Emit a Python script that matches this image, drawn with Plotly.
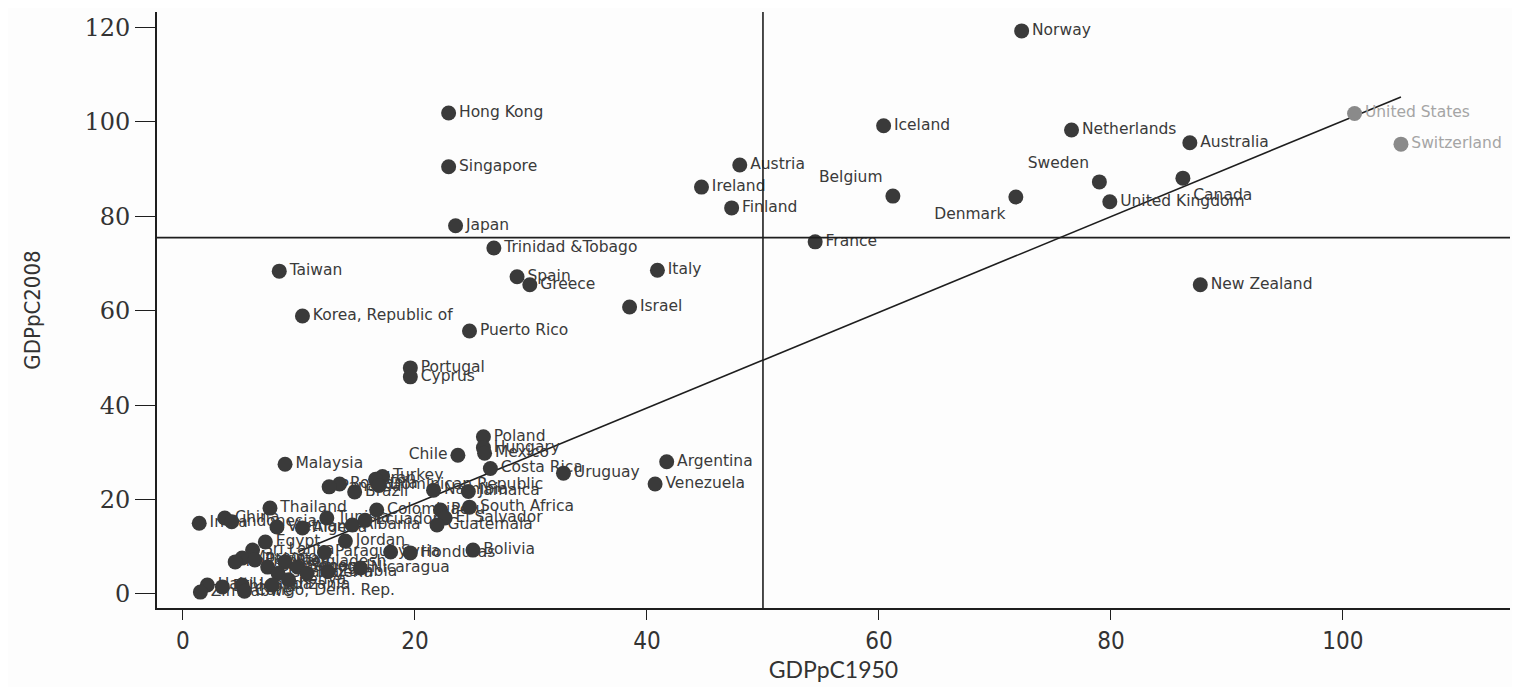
import plotly.graph_objects as go

# ---- data (GDP per capita relative index, 1950 vs 2008) ----
countries = [
    "Norway", "United States", "Switzerland", "Iceland", "Netherlands", "Australia",
    "Hong Kong", "Singapore", "Austria", "Ireland", "Finland", "Belgium", "Denmark",
    "Sweden", "Canada", "United Kingdom", "Japan", "France", "Trinidad &Tobago",
    "Taiwan", "Italy", "Spain", "Greece", "New Zealand", "Israel",
    "Korea, Republic of", "Puerto Rico", "Portugal", "Cyprus",
    "Poland", "Hungary", "Mexico", "Chile", "Argentina", "Malaysia", "Costa Rica",
    "Uruguay", "Venezuela", "Turkey", "Iran", "Dominican Republic", "Romania",
    "Panama", "Brazil", "Namibia", "Jamaica", "South Africa", "Thailand",
    "China", "India", "Indonesia", "Vietnam", "Algeria", "Tunisia", "Albania",
    "Ecuador", "Colombia", "Peru", "El Salvador", "Guatemala",
    "Egypt", "Jordan", "Sri Lanka", "Paraguay", "Syria", "Honduras", "Bolivia",
    "Morocco", "Pakistan", "Philippines", "Cameroon", "Bangladesh", "Senegal",
    "Nicaragua", "Zambia", "Ghana", "Nigeria", "Kenya", "Tanzania", "Uganda",
    "Ethiopia", "Haiti", "Zimbabwe", "Congo, Dem. Rep.",
]
gdp1950 = [
    72.3, 101.0, 105.0, 60.4, 76.6, 86.8,
    22.9, 22.9, 48.0, 44.7, 47.3, 61.2, 71.8,
    79.0, 86.2, 79.9, 23.5, 54.5, 26.8,
    8.3, 40.9, 28.8, 29.9, 87.7, 38.5,
    10.3, 24.7, 19.6, 19.6,
    25.9, 25.9, 26.0, 23.7, 41.7, 8.8, 26.5,
    32.8, 40.7, 17.2, 16.6, 16.9, 13.5,
    12.6, 14.8, 21.6, 24.6, 24.7, 7.5,
    3.6, 1.4, 4.2, 8.1, 10.3, 12.4, 14.6,
    15.7, 16.7, 22.2, 22.6, 21.9,
    7.1, 14.0, 6.0, 12.2, 17.9, 19.6, 25.0,
    5.1, 6.2, 4.5, 7.3, 8.8, 9.9,
    15.3, 12.5, 8.2, 10.7, 9.1, 7.7, 5.1,
    3.4, 2.1, 1.5, 5.3,
]
gdp2008 = [
    119.3, 101.8, 95.3, 99.2, 98.3, 95.6,
    101.9, 90.5, 90.9, 86.2, 81.8, 84.3, 84.1,
    87.3, 88.1, 83.1, 78.0, 74.6, 73.3,
    68.4, 68.6, 67.2, 65.5, 65.5, 60.8,
    58.9, 55.7, 47.9, 46.0,
    33.3, 31.0, 29.8, 29.4, 28.0, 27.5, 26.6,
    25.6, 23.3, 24.9, 24.3, 23.0, 23.3,
    22.7, 21.6, 22.0, 21.7, 18.4, 18.2,
    16.1, 15.0, 15.3, 14.2, 14.0, 16.1, 14.6,
    15.6, 17.8, 17.8, 16.1, 14.6,
    11.0, 11.2, 9.3, 8.8, 8.9, 8.7, 9.3,
    7.6, 7.2, 6.8, 5.7, 6.8, 5.7,
    5.5, 4.7, 4.4, 4.4, 3.0, 1.9, 1.9,
    1.5, 1.9, 0.4, 0.6,
]

# fitted trend line end points
trend_x = [10.0, 105.0]
trend_y = [9.0, 105.3]

# quadrant reference values
ref_x = 50
ref_y = 75.5

x_ticks = [0, 20, 40, 60, 80, 100]
y_ticks = [0, 20, 40, 60, 80, 100, 120]

# ---- styling ----
label_pos = {
    "Chile": "middle left",
    "Belgium": "top left",
    "Sweden": "top left",
    "Denmark": "bottom left",
    "Canada": "bottom right",
    "United Kingdom": "middle right",
}
faded = {"Switzerland", "United States"}
positions = [label_pos.get(c, "middle right") for c in countries]
marker_colors = ["#8a8a8a" if c in faded else "#3a3a3a" for c in countries]
text_colors = ["#a5a5a5" if c in faded else "#3a3a3a" for c in countries]

fig = go.Figure()

fig.add_trace(go.Scatter(
    x=trend_x, y=trend_y, mode="lines",
    line=dict(color="#1e1e1e", width=1.6),
    hoverinfo="skip", showlegend=False,
))

fig.add_trace(go.Scatter(
    x=gdp1950, y=gdp2008, mode="markers+text",
    text=countries, textposition=positions,
    textfont=dict(family="'DejaVu Sans', sans-serif", size=15.5, color=text_colors),
    marker=dict(size=15, color=marker_colors, line=dict(width=0)),
    showlegend=False,
))

fig.add_shape(type="line", xref="x", yref="paper", x0=ref_x, x1=ref_x, y0=0, y1=1.0,
              line=dict(color="#1e1e1e", width=1.6))
fig.add_shape(type="line", xref="paper", yref="y", x0=0, x1=1, y0=ref_y, y1=ref_y,
              line=dict(color="#1e1e1e", width=1.6))

fig.update_layout(
    width=1512, height=679,
    margin=dict(l=149, r=10, t=4, b=79),
    paper_bgcolor="#fdfdfd", plot_bgcolor="#fdfdfd",
    xaxis=dict(
        range=[-2.24, 114.4], tickvals=x_ticks, showgrid=False, zeroline=False,
        showline=True, linecolor="#1e1e1e", linewidth=1.6,
        ticks="outside", ticklen=10, tickcolor="#1e1e1e", tickwidth=1.4,
        tickfont=dict(family="'DejaVu Sans Condensed', 'DejaVu Sans', sans-serif", size=24, color="#333"),
        title=dict(text="GDPpC1950", standoff=2,
                   font=dict(family="Lato, 'Open Sans', sans-serif", size=23, color="#333")),
    ),
    yaxis=dict(
        range=[-2.97, 123.3], tickvals=y_ticks, showgrid=False, zeroline=False,
        showline=True, linecolor="#1e1e1e", linewidth=1.6,
        ticks="outside", ticklen=20, tickcolor="#1e1e1e", tickwidth=1.4,
        tickfont=dict(family="'DejaVu Serif', serif", size=24, color="#333"),
        title=dict(text="GDPpC2008", standoff=38,
                   font=dict(family="'DejaVu Sans Condensed', 'DejaVu Sans', sans-serif", size=22, color="#333")),
    ),
)

fig.write_html("out.html")
